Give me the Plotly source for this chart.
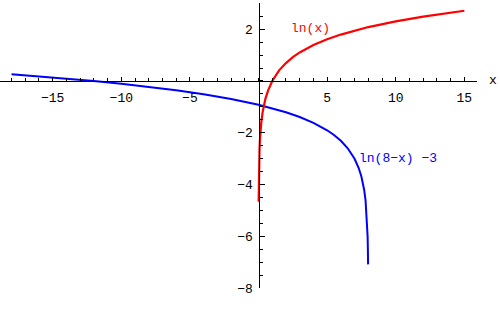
import plotly.graph_objects as go

# Curve samples
red_x = [0.0095, 0.015, 0.02, 0.03, 0.05, 0.07, 0.1, 0.15, 0.2, 0.3, 0.4, 0.5, 0.7, 1, 1.5, 2, 2.5, 3, 4, 5, 6, 7, 8, 10, 12, 15]
red_y = [-4.66, -4.20, -3.91, -3.51, -3.00, -2.66, -2.30, -1.90, -1.61, -1.20, -0.92, -0.69, -0.36, 0.0, 0.41, 0.69, 0.92, 1.10, 1.39, 1.61, 1.79, 1.95, 2.08, 2.30, 2.48, 2.71]

blue_x = [-18, -16, -14, -12, -10, -8, -6, -4, -2, 0, 1, 2, 3, 4, 5, 5.5, 6, 6.5, 7, 7.3, 7.5, 7.7, 7.8, 7.9, 7.95, 7.97, 7.983]
blue_y = [0.258, 0.178, 0.091, -0.004, -0.110, -0.227, -0.361, -0.515, -0.697, -0.921, -1.054, -1.208, -1.391, -1.614, -1.901, -2.084, -2.307, -2.595, -3.0, -3.357, -3.693, -4.204, -4.609, -5.303, -5.996, -6.507, -7.075]

x_ticks = [-15, -10, -5, 5, 10, 15]
y_ticks = [-8, -6, -4, -2, 2]

W, H = 500, 309
FONT = "Liberation Mono"

fig = go.Figure()
fig.add_trace(go.Scatter(x=blue_x, y=blue_y, mode="lines", line=dict(color="#0000ff", width=2), hoverinfo="skip"))
fig.add_trace(go.Scatter(x=red_x, y=red_y, mode="lines", line=dict(color="#ff0000", width=2.2), hoverinfo="skip"))

x_rng = [-18.84, 15.9]
y_rng = [-8, 3]
x_dom = [0, 476.7 / W]
y_dom = [1 - 297 / H, 1 - 3.3 / H]
# positions of the zero lines in paper fraction
y0_frac = y_dom[0] + (0 - y_rng[0]) / (y_rng[1] - y_rng[0]) * (y_dom[1] - y_dom[0])
x0_frac = x_dom[0] + (0 - x_rng[0]) / (x_rng[1] - x_rng[0]) * (x_dom[1] - x_dom[0])

fig.update_layout(
    width=W, height=H,
    margin=dict(l=0, r=0, t=0, b=0),
    paper_bgcolor="white", plot_bgcolor="white",
    showlegend=False,
    font=dict(family=FONT, size=13, color="black"),
    xaxis=dict(
        range=x_rng, domain=x_dom, anchor="free", position=y0_frac,
        showgrid=False, zeroline=False, showline=True, linecolor="black", linewidth=1,
        tickvals=x_ticks, ticks="inside", ticklen=4, tickwidth=1, tickcolor="black",
        ticklabelstandoff=4,
        minor=dict(dtick=1, tick0=0, ticks="inside", ticklen=3, tickcolor="black", showgrid=False),
        tickfont=dict(family=FONT, size=13, color="black"),
    ),
    yaxis=dict(
        range=y_rng, domain=y_dom, anchor="free", position=x0_frac,
        showgrid=False, zeroline=False, showline=True, linecolor="black", linewidth=1,
        tickvals=y_ticks, ticks="inside", ticklen=5, tickwidth=1, tickcolor="black",
        ticklabelstandoff=3,
        minor=dict(dtick=0.5, tick0=0, ticks="inside", ticklen=3, tickcolor="black", showgrid=False),
        tickfont=dict(family=FONT, size=13, color="black"),
    ),
    annotations=[
        dict(x=3.81, y=2.04, xref="x", yref="y", text="ln(x)", showarrow=False,
             xanchor="center", yanchor="middle",
             font=dict(family=FONT, size=13, color="#ff0000")),
        dict(x=10.15, y=-3.0, xref="x", yref="y", text="ln(8\u2212x) \u22123", showarrow=False,
             xanchor="center", yanchor="middle",
             font=dict(family=FONT, size=13, color="#0000ff")),
        dict(x=493 / W, y=1 - 83 / H, xref="paper", yref="paper", text="x", showarrow=False,
             xanchor="center", yanchor="middle",
             font=dict(family=FONT, size=13, color="black")),
    ],
)

fig.write_html("out.html")
